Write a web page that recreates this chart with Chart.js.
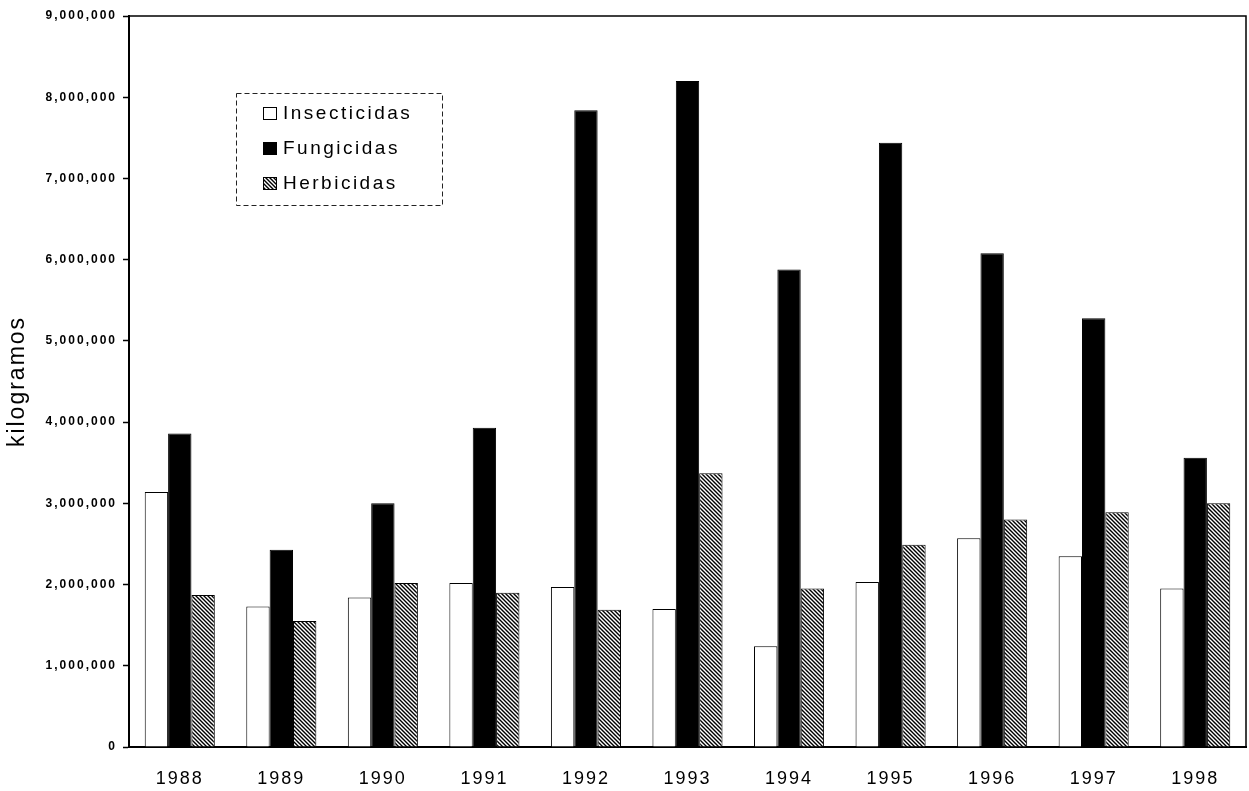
<!DOCTYPE html>
<html>
<head>
<meta charset="utf-8">
<script src="https://cdn.jsdelivr.net/npm/chart.js@4/dist/chart.umd.min.js"></script>
<style>
html,body{margin:0;padding:0;background:#fff;}
#wrap{width:1249px;height:791px;}
</style>
</head>
<body>
<div id="wrap"><canvas id="c" width="1249" height="791"></canvas></div>
<script>
const years = ['1988','1989','1990','1991','1992','1993','1994','1995','1996','1997','1998'];
const insecticidas = [3140000,1730000,1840000,2020000,1970000,1700000,1240000,2030000,2570000,2350000,1950000];
const fungicidas = [3860000,2430000,3000000,3930000,7840000,8200000,5880000,7440000,6080000,5280000,3560000];
const herbicidas = [1870000,1550000,2020000,1900000,1690000,3370000,1950000,2490000,2800000,2890000,3000000];
const seriesNames = ['Insecticidas','Fungicidas','Herbicidas'];
const yTitle = 'kilogramos';

const FONT = "'Liberation Sans', Arial, sans-serif";

function makeHatch(ctx){
  const s = 4;
  const c = document.createElement('canvas');
  c.width = s; c.height = s;
  const g = c.getContext('2d');
  g.fillStyle = '#fff'; g.fillRect(0,0,s,s);
  g.strokeStyle = '#000'; g.lineWidth = 1.4;
  g.beginPath();
  g.moveTo(-1,-1); g.lineTo(s+1,s+1);
  g.moveTo(-1,s-1); g.lineTo(1,s+1);
  g.moveTo(s-1,-1); g.lineTo(s+1,1);
  g.stroke();
  return ctx.createPattern(c,'repeat');
}

const canvas = document.getElementById('c');
const ctx = canvas.getContext('2d');
const hatch = makeHatch(ctx);

const spacingPlugin = {
  id: 'spacing',
  beforeUpdate(chart){ chart.ctx.letterSpacing = '2px'; },
  beforeDraw(chart){ chart.ctx.letterSpacing = '2px'; }
};

const framePlugin = {
  id: 'frame',
  afterDraw(chart){
    const a = chart.chartArea; const c = chart.ctx;
    c.save();
    c.strokeStyle = '#000'; c.lineWidth = 1.5;
    c.beginPath();
    c.moveTo(a.left, a.top); c.lineTo(a.right, a.top); c.lineTo(a.right, a.bottom);
    c.stroke();
    c.restore();
  }
};

const legendPlugin = {
  id: 'boxLegend',
  afterDraw(chart){
    const c = chart.ctx;
    c.save();
    c.letterSpacing = '0px';
    c.strokeStyle = '#222'; c.lineWidth = 1;
    c.setLineDash([5,3]);
    c.strokeRect(236.5, 93.5, 206, 112);
    c.setLineDash([]);
    const rows = [113, 148, 183];
    chart.data.datasets.forEach((ds, i) => {
      const y = rows[i];
      c.fillStyle = ds.backgroundColor;
      c.fillRect(263, y-6, 14, 13);
      c.strokeStyle = '#000'; c.lineWidth = 1;
      c.strokeRect(263.5, y-5.5, 13, 12);
      c.fillStyle = '#000';
      c.font = '19px ' + FONT;
      c.letterSpacing = '2.5px';
      c.textBaseline = 'middle';
      c.textAlign = 'left';
      c.fillText(ds.label, 283, y+1);
      c.letterSpacing = '0px';
    });
    c.restore();
  }
};

new Chart(canvas, {
  type: 'bar',
  data: {
    labels: years,
    datasets: [
      {label: seriesNames[0], data: insecticidas, backgroundColor: '#ffffff', borderColor: '#000', borderWidth: 1},
      {label: seriesNames[1], data: fungicidas, backgroundColor: '#000000', borderColor: '#000', borderWidth: 1},
      {label: seriesNames[2], data: herbicidas, backgroundColor: hatch, borderColor: '#000', borderWidth: 1}
    ]
  },
  options: {
    responsive: false,
    animation: false,
    devicePixelRatio: 1,
    layout: {padding: {top: 16, right: 3, left: 0, bottom: 0}},
    datasets: {bar: {categoryPercentage: 0.69, barPercentage: 1.0}},
    plugins: {
      legend: {display: false},
      tooltip: {enabled: false}
    },
    scales: {
      x: {
        grid: {display: false, drawTicks: false},
        border: {display: true, color: '#000', width: 2},
        ticks: {color: '#000', font: {family: FONT, size: 18}, padding: 21, maxRotation: 0, autoSkip: false},
        afterFit(s){ s.height = 44; }
      },
      y: {
        min: 0, max: 9000000,
        grid: {display: true, drawOnChartArea: false, drawTicks: true, tickLength: 6, color: '#000', tickWidth: 1.5},
        border: {display: true, color: '#000', width: 2},
        ticks: {
          stepSize: 1000000, color: '#000', padding: 6,
          font: {family: FONT, size: 12, weight: 'bold'},
          callback: v => v.toLocaleString('en-US')
        },
        title: {display: true, text: yTitle, color: '#000', font: {family: FONT, size: 23}, padding: {top: 4, bottom: 0}},
        afterFit(s){ s.width = 129; }
      }
    }
  },
  plugins: [spacingPlugin, framePlugin, legendPlugin]
});
</script>
</body>
</html>
